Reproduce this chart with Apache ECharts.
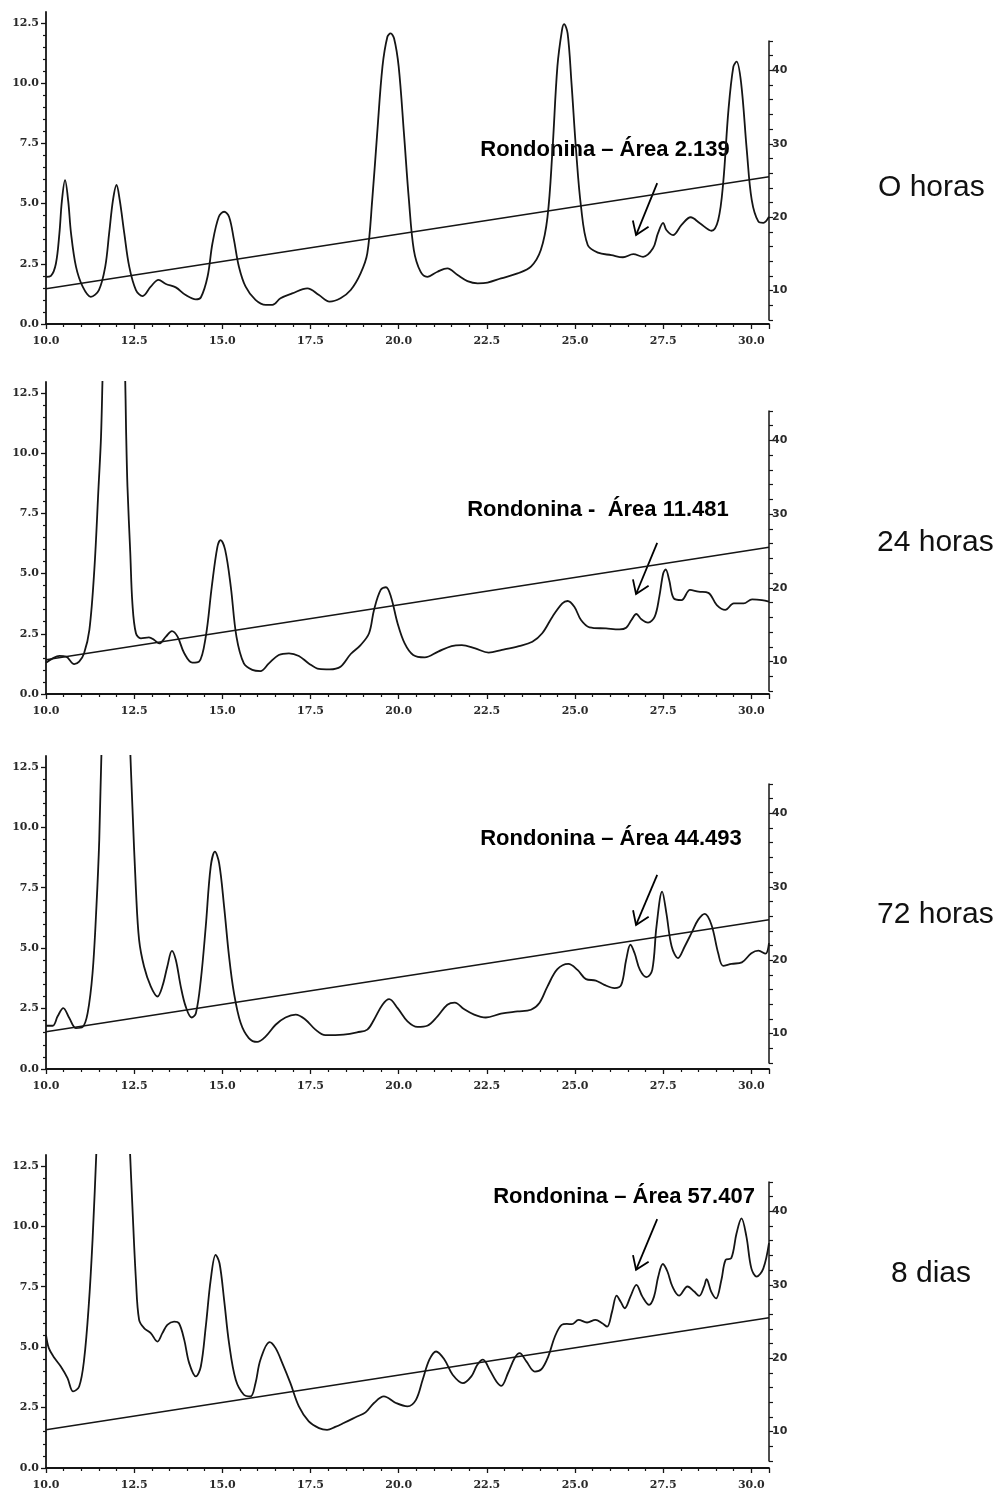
<!DOCTYPE html>
<html>
<head>
<meta charset="utf-8">
<script src="https://cdn.jsdelivr.net/npm/echarts@6/dist/echarts.min.js"></script>
<style>
  html, body { margin: 0; padding: 0; background: #ffffff; }
  #chart { width: 999px; height: 1492px; }
</style>
</head>
<body>
<div id="chart"></div>
<script>
// Retention time (min) vs. absorbance for each incubation time
const trace0h = [[10.0,1.96],[10.14,2.0],[10.28,2.5],[10.38,3.76],[10.45,5.1],[10.54,5.97],[10.63,5.1],[10.71,3.76],[10.85,2.38],[11.04,1.55],[11.27,1.13],[11.5,1.41],[11.68,2.38],[11.79,3.76],[11.9,5.15],[12.0,5.77],[12.09,5.15],[12.22,3.76],[12.36,2.38],[12.55,1.41],[12.74,1.16],[12.97,1.55],[13.19,1.83],[13.4,1.66],[13.68,1.52],[13.96,1.2],[14.25,1.02],[14.39,1.1],[14.58,1.96],[14.72,3.35],[14.9,4.45],[15.05,4.66],[15.19,4.45],[15.33,3.49],[15.47,2.38],[15.66,1.55],[15.94,1.0],[16.23,0.79],[16.42,0.79],[16.65,1.07],[16.98,1.27],[17.41,1.48],[17.74,1.2],[18.04,0.93],[18.35,1.07],[18.64,1.41],[18.92,2.1],[19.11,2.93],[19.25,5.15],[19.39,7.9],[19.54,10.68],[19.68,11.92],[19.77,12.06],[19.87,11.85],[20.0,10.68],[20.15,7.9],[20.29,5.15],[20.43,3.07],[20.62,2.17],[20.81,1.96],[21.1,2.17],[21.38,2.31],[21.67,2.03],[21.95,1.78],[22.24,1.69],[22.52,1.72],[22.9,1.89],[23.37,2.1],[23.75,2.38],[24.03,3.07],[24.22,4.45],[24.36,7.2],[24.5,10.68],[24.63,12.2],[24.69,12.45],[24.79,12.06],[24.9,10.0],[25.03,7.2],[25.17,4.87],[25.36,3.28],[25.65,2.96],[26.03,2.86],[26.36,2.77],[26.65,2.9],[26.93,2.79],[27.21,3.14],[27.35,3.76],[27.5,4.2],[27.59,3.9],[27.78,3.69],[28.02,4.11],[28.28,4.43],[28.54,4.18],[28.87,3.87],[29.06,4.32],[29.2,5.84],[29.35,8.88],[29.49,10.68],[29.58,10.89],[29.71,10.0],[29.87,7.22],[30.01,5.15],[30.2,4.25],[30.34,4.2],[30.5,4.45]];

const trace24h = [[10.0,1.3],[10.19,1.48],[10.38,1.58],[10.57,1.55],[10.8,1.24],[10.94,1.34],[11.08,1.69],[11.23,2.66],[11.37,5.15],[11.49,8.6],[11.56,10.68],[11.61,13.5],[11.93,30.0],[12.24,13.5],[12.27,11.0],[12.31,8.6],[12.39,5.84],[12.45,3.76],[12.55,2.52],[12.69,2.31],[12.92,2.35],[13.07,2.24],[13.21,2.1],[13.4,2.38],[13.57,2.61],[13.73,2.38],[13.92,1.69],[14.15,1.3],[14.34,1.34],[14.53,2.38],[14.7,4.45],[14.86,6.11],[14.95,6.39],[15.08,5.98],[15.24,4.45],[15.4,2.38],[15.61,1.27],[15.85,1.0],[16.08,0.95],[16.32,1.27],[16.6,1.62],[16.89,1.69],[17.17,1.58],[17.45,1.27],[17.74,1.04],[18.04,1.02],[18.35,1.13],[18.64,1.66],[18.92,2.03],[19.16,2.52],[19.3,3.49],[19.49,4.32],[19.64,4.43],[19.78,4.04],[19.97,2.93],[20.17,2.1],[20.41,1.62],[20.74,1.52],[21.12,1.76],[21.5,1.99],[21.79,2.03],[22.17,1.89],[22.55,1.72],[22.93,1.83],[23.41,1.99],[23.79,2.17],[24.07,2.52],[24.36,3.21],[24.64,3.76],[24.79,3.86],[24.98,3.62],[25.17,3.07],[25.41,2.77],[25.88,2.72],[26.26,2.68],[26.45,2.75],[26.6,3.07],[26.74,3.32],[26.88,3.1],[27.07,2.96],[27.26,3.21],[27.39,4.04],[27.5,5.0],[27.57,5.17],[27.67,4.73],[27.8,3.97],[28.02,3.9],[28.26,4.32],[28.5,4.25],[28.78,4.2],[29.02,3.69],[29.26,3.49],[29.5,3.76],[29.78,3.76],[30.02,3.93],[30.3,3.9],[30.5,3.83]];

const trace72h = [[10.0,1.79],[10.19,1.79],[10.33,2.18],[10.49,2.52],[10.66,2.11],[10.85,1.69],[11.04,1.74],[11.18,2.31],[11.32,3.97],[11.43,6.72],[11.51,9.48],[11.58,13.5],[11.98,30.0],[12.38,13.5],[12.45,10.85],[12.55,7.41],[12.64,5.34],[12.78,4.24],[12.97,3.42],[13.16,3.0],[13.3,3.42],[13.44,4.24],[13.57,4.89],[13.68,4.52],[13.82,3.42],[13.96,2.59],[14.13,2.13],[14.25,2.31],[14.39,3.69],[14.53,5.9],[14.67,8.37],[14.79,8.99],[14.91,8.51],[15.05,6.72],[15.19,4.66],[15.33,3.14],[15.52,1.9],[15.75,1.28],[15.99,1.12],[16.23,1.35],[16.51,1.83],[16.79,2.13],[17.08,2.25],[17.36,2.04],[17.64,1.63],[17.92,1.4],[18.2,1.4],[18.44,1.42],[18.82,1.52],[19.11,1.63],[19.3,2.04],[19.54,2.66],[19.73,2.89],[19.97,2.52],[20.25,1.97],[20.53,1.74],[20.81,1.79],[21.1,2.18],[21.38,2.66],[21.59,2.75],[21.85,2.48],[22.14,2.25],[22.47,2.13],[22.9,2.29],[23.37,2.38],[23.75,2.45],[23.99,2.73],[24.22,3.42],[24.5,4.13],[24.81,4.35],[25.07,4.1],[25.31,3.72],[25.59,3.66],[25.83,3.48],[26.12,3.35],[26.31,3.48],[26.45,4.52],[26.57,5.14],[26.69,4.79],[26.84,4.1],[27.03,3.8],[27.19,4.1],[27.31,5.9],[27.47,7.34],[27.59,6.45],[27.74,5.07],[27.92,4.59],[28.11,5.07],[28.3,5.62],[28.49,6.17],[28.68,6.42],[28.87,5.96],[29.06,4.79],[29.2,4.27],[29.44,4.35],[29.73,4.41],[30.0,4.79],[30.2,4.9],[30.4,4.77],[30.5,5.21]];

const trace8d = [[10.0,5.51],[10.08,4.96],[10.24,4.55],[10.42,4.2],[10.61,3.72],[10.77,3.17],[10.94,3.37],[11.08,4.48],[11.21,6.68],[11.32,9.44],[11.44,13.5],[11.9,30.0],[12.37,13.5],[12.45,10.81],[12.55,7.78],[12.64,6.13],[12.78,5.79],[12.97,5.58],[13.16,5.23],[13.3,5.58],[13.44,5.92],[13.63,6.06],[13.77,5.99],[13.92,5.3],[14.06,4.34],[14.25,3.79],[14.39,4.2],[14.53,5.85],[14.67,7.78],[14.81,8.82],[14.92,8.47],[15.05,6.96],[15.19,5.17],[15.38,3.65],[15.61,3.03],[15.8,2.96],[15.94,3.51],[16.08,4.48],[16.34,5.21],[16.51,4.96],[16.7,4.34],[16.93,3.51],[17.17,2.55],[17.45,1.93],[17.74,1.65],[17.97,1.58],[18.2,1.7],[18.44,1.86],[18.82,2.13],[19.06,2.3],[19.3,2.69],[19.58,2.96],[19.92,2.69],[20.25,2.55],[20.49,2.82],[20.68,3.65],[20.87,4.48],[21.06,4.82],[21.3,4.48],[21.53,3.86],[21.82,3.51],[22.06,3.79],[22.23,4.27],[22.39,4.48],[22.58,4.06],[22.77,3.58],[22.91,3.4],[23.1,3.93],[23.29,4.55],[23.43,4.75],[23.62,4.41],[23.86,3.99],[24.05,4.09],[24.24,4.61],[24.43,5.44],[24.62,5.92],[24.77,5.96],[24.91,5.95],[25.1,6.13],[25.34,6.02],[25.58,6.13],[25.77,5.99],[25.91,5.85],[26.05,6.47],[26.18,7.13],[26.29,6.89],[26.41,6.61],[26.57,7.09],[26.74,7.58],[26.91,7.09],[27.1,6.75],[27.24,7.09],[27.36,7.92],[27.49,8.44],[27.62,8.13],[27.76,7.51],[27.95,7.13],[28.19,7.51],[28.38,7.3],[28.52,7.12],[28.66,7.51],[28.73,7.81],[28.86,7.3],[29.0,7.02],[29.15,7.78],[29.27,8.61],[29.43,8.68],[29.58,9.71],[29.72,10.33],[29.86,9.57],[30.0,8.26],[30.15,7.92],[30.34,8.26],[30.5,9.3]];

// Solvent gradient (% B, right axis): start and end of the run
const gradient = [[10.0, 10.25], [30.5, 25.5]];

// Axis tick values
const timeTicks = [10, 12.5, 15, 17.5, 20, 22.5, 25, 27.5, 30];
const absTicks = [0, 2.5, 5, 7.5, 10, 12.5];
const pctLabels = [10, 20, 30, 40];
const pctTicks = [6, 8, 10, 12, 14, 16, 18, 20, 22, 24, 26, 28, 30, 32, 34, 36, 38, 40, 42, 44];

// Panel captions and peak notes
const sideLabels = ['O horas', '24 horas', '72 horas', '8 dias'];
const noteTexts = ['Rondonina – Área 2.139', 'Rondonina -  Área 11.481', 'Rondonina – Área 44.493', 'Rondonina – Área 57.407'];
// [arrow tail x, tail y, arrow tip x, tip y, text x, text y] in time / absorbance units
const notes = [
  [27.33, 5.85, 26.73, 3.69, 25.85, 7.22],
  [27.33, 6.27, 26.73, 4.15, 25.65, 7.63],
  [27.33, 8.03, 26.73, 5.96, 26.02, 9.52],
  [27.33, 10.3, 26.73, 8.2, 26.39, 11.21]
];

const traces = [trace0h, trace24h, trace72h, trace8d];

// Pixel layout of each stacked panel
const layout = [
  { top: 12,   height: 312, gTop: 41,   gHeight: 279, sideX: 878, sideY: 188 },
  { top: 382,  height: 312, gTop: 411,  gHeight: 280, sideX: 877, sideY: 543 },
  { top: 756,  height: 313, gTop: 784,  gHeight: 279, sideX: 877, sideY: 915 },
  { top: 1155, height: 313, gTop: 1182, gHeight: 279, sideX: 891, sideY: 1274 }
];

const INK = '#151515';
const serif = '"DejaVu Serif", "Liberation Serif", serif';
const sans = '"DejaVu Sans", "Liberation Sans", sans-serif';

function noteRenderer(text) {
  return function (params, api) {
    const tail = api.coord([api.value(0), api.value(1)]);
    const tip = api.coord([api.value(2), api.value(3)]);
    const txt = api.coord([api.value(4), api.value(5)]);
    const ang = Math.atan2(tail[1] - tip[1], tail[0] - tip[0]);
    const len = 15, spread = 0.6;
    const h1 = [tip[0] + len * Math.cos(ang + spread), tip[1] + len * Math.sin(ang + spread)];
    const h2 = [tip[0] + len * Math.cos(ang - spread), tip[1] + len * Math.sin(ang - spread)];
    return {
      type: 'group',
      children: [
        { type: 'line', shape: { x1: tail[0], y1: tail[1], x2: tip[0], y2: tip[1] },
          style: { stroke: '#000', lineWidth: 1.8 } },
        { type: 'polyline', shape: { points: [h1, tip, h2] },
          style: { stroke: '#000', lineWidth: 1.8, fill: null } },
        { type: 'text', x: txt[0], y: txt[1],
          style: { text: text, font: 'bold 22px "Liberation Sans", Arial, sans-serif',
                   fill: '#000', align: 'center', verticalAlign: 'middle' } }
      ]
    };
  };
}

const grid = [], xAxis = [], yAxis = [], series = [], graphic = [];

layout.forEach(function (L, i) {
  const gMain = 2 * i, gGrad = 2 * i + 1;
  grid.push({ left: 46, right: 230, top: L.top, height: L.height });
  grid.push({ left: 46, right: 230, top: L.gTop, height: L.gHeight });

  xAxis.push({
    gridIndex: gMain, type: 'value', min: 10, max: 30.5, interval: 2.5,
    axisLine: { onZero: false, lineStyle: { color: INK, width: 1.8 } },
    axisTick: { show: true, length: 5, lineStyle: { color: INK, width: 1.3 } },
    minorTick: { show: true, splitNumber: 5, length: 3, lineStyle: { color: INK, width: 1.2 } },
    splitLine: { show: false },
    axisLabel: { customValues: timeTicks, formatter: function (v) { return v.toFixed(1); },
                 fontFamily: serif, fontWeight: 'bold', fontSize: 11, color: '#2a2a2a', margin: 12 }
  });
  xAxis.push({ gridIndex: gGrad, type: 'value', min: 10, max: 30.5, show: false });

  yAxis.push({
    gridIndex: gMain, type: 'value', position: 'left', min: 0, max: 12.95, interval: 2.5,
    axisLine: { show: true, onZero: false, lineStyle: { color: INK, width: 1.8 } },
    axisTick: { show: true, length: 5, customValues: absTicks, lineStyle: { color: INK, width: 1.3 } },
    minorTick: { show: true, splitNumber: 5, length: 3, lineStyle: { color: INK, width: 1.2 } },
    splitLine: { show: false },
    axisLabel: { customValues: absTicks, formatter: function (v) { return v.toFixed(1); },
                 fontFamily: serif, fontWeight: 'bold', fontSize: 11, color: '#2a2a2a', margin: 7 }
  });
  yAxis.push({
    gridIndex: gGrad, type: 'value', position: 'right', min: 6, max: 44,
    axisLine: { show: true, onZero: false, lineStyle: { color: INK, width: 1.5 } },
    axisTick: { show: true, length: 4, customValues: pctTicks, lineStyle: { color: INK, width: 1.2 } },
    splitLine: { show: false },
    axisLabel: { customValues: pctLabels, fontFamily: sans, fontWeight: 'bold', fontSize: 11,
                 color: '#2a2a2a', margin: 3 }
  });

  series.push({
    type: 'line', xAxisIndex: gMain, yAxisIndex: gMain, data: traces[i],
    showSymbol: false, smooth: 0.35, clip: true, silent: true,
    lineStyle: { color: INK, width: 1.8 }
  });
  series.push({
    type: 'line', xAxisIndex: gGrad, yAxisIndex: gGrad, data: gradient,
    showSymbol: false, silent: true,
    lineStyle: { color: INK, width: 1.6 }
  });
  series.push({
    type: 'custom', xAxisIndex: gMain, yAxisIndex: gMain, data: [notes[i]],
    encode: { x: [0, 2, 4], y: [1, 3, 5] }, silent: true,
    renderItem: noteRenderer(noteTexts[i])
  });

  graphic.push({
    type: 'text', x: L.sideX, y: L.sideY,
    style: { text: sideLabels[i], font: '30px "Liberation Sans", Arial, sans-serif',
             fill: '#111', align: 'left', verticalAlign: 'middle' }
  });
});

const chart = echarts.init(document.getElementById('chart'), null, { renderer: 'canvas' });
chart.setOption({
  backgroundColor: '#ffffff',
  animation: false,
  grid: grid,
  xAxis: xAxis,
  yAxis: yAxis,
  series: series,
  graphic: graphic
});
</script>
</body>
</html>
